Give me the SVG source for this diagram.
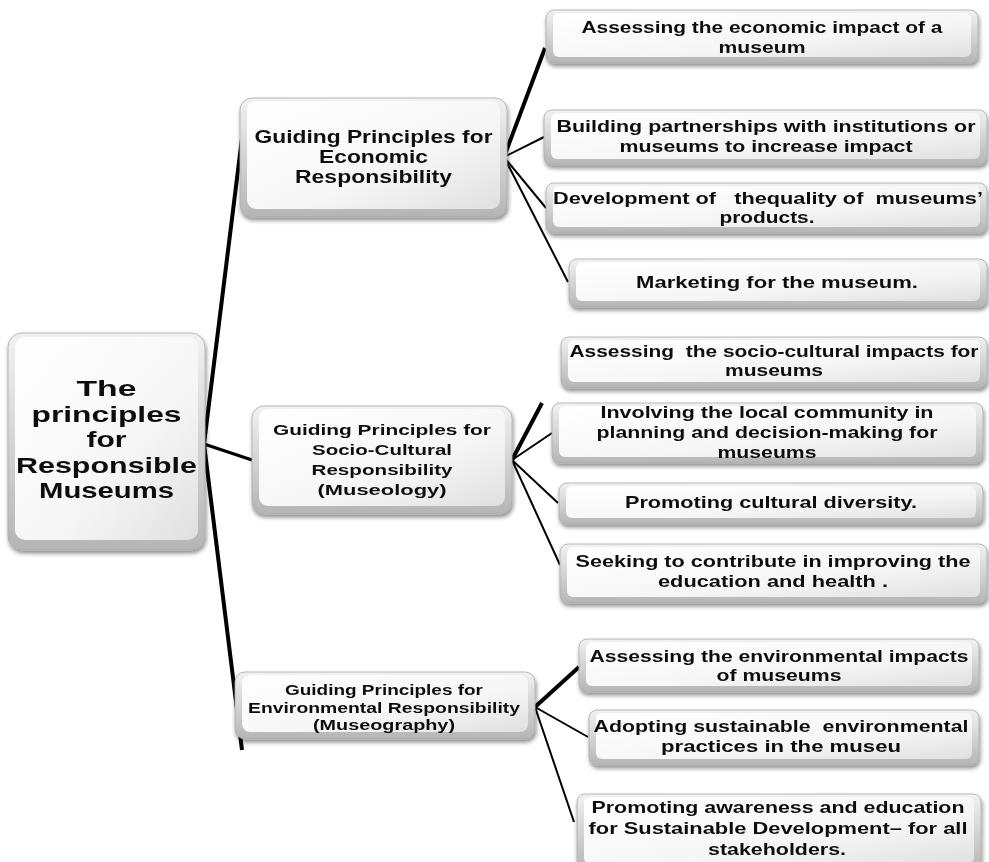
<svg xmlns="http://www.w3.org/2000/svg" width="989" height="862" viewBox="0 0 989 862">
<defs>
<linearGradient id="gOuter" x1="0" y1="0" x2="0" y2="1">
<stop offset="0" stop-color="#f2f2f2"/>
<stop offset="1" stop-color="#b5b5b5"/>
</linearGradient>
<linearGradient id="gInner" x1="0" y1="0" x2="1" y2="1">
<stop offset="0" stop-color="#ffffff"/>
<stop offset="0.6" stop-color="#f6f6f6"/>
<stop offset="1" stop-color="#e0e0e0"/>
</linearGradient>
<filter id="shadow" x="-10%" y="-20%" width="125%" height="150%">
<feGaussianBlur in="SourceAlpha" stdDeviation="2"/>
<feOffset dx="1" dy="3" result="b"/>
<feComponentTransfer><feFuncA type="linear" slope="0.45"/></feComponentTransfer>
<feMerge><feMergeNode/><feMergeNode in="SourceGraphic"/></feMerge>
</filter>
</defs>
<style>
.outer{fill:url(#gOuter);stroke:#a9a9a9;stroke-width:0.8}
.inner{fill:url(#gInner)}
text{font-family:"Liberation Sans","Open Sans",sans-serif;font-weight:bold;fill:#111;text-anchor:middle;white-space:pre}
.root{font-size:22px}
.mid1{font-size:17.5px}
.mid2{font-size:15.5px}
.mid3{font-size:15px}
.leaf{font-size:16.5px}
.thick{stroke:#000;stroke-width:4;fill:none;stroke-linejoin:miter}
.thin{stroke:#000;stroke-width:2;fill:none}
</style>
<rect width="989" height="862" fill="#ffffff"/>

<g id="connectors">
<polyline class="thick" points="242,138 204,444 242,750"/>
<line class="thick" x1="204" y1="444" x2="252" y2="460" style="stroke-width:3"/>
<line class="thick" x1="504" y1="157" x2="545" y2="48"/>
<line class="thin" x1="504" y1="157" x2="544" y2="137"/>
<line class="thin" x1="504" y1="157" x2="546" y2="208"/>
<line class="thin" x1="504" y1="157" x2="568" y2="282"/>
<line class="thick" x1="512" y1="460" x2="542" y2="403"/>
<line class="thin" x1="512" y1="460" x2="552" y2="433"/>
<line class="thin" x1="512" y1="460" x2="558" y2="503"/>
<line class="thin" x1="512" y1="460" x2="560" y2="565"/>
<line class="thick" x1="535" y1="707" x2="579" y2="667"/>
<line class="thin" x1="535" y1="707" x2="588" y2="737"/>
<line class="thin" x1="535" y1="707" x2="574" y2="822"/>
</g>

<g id="root" filter="url(#shadow)">
<rect class="outer" x="8" y="333" width="197" height="217" rx="14"/>
<rect class="inner" x="15" y="337" width="183" height="203" rx="10"/>
<text class="root" x="106.5" y="396" textLength="60" lengthAdjust="spacingAndGlyphs">The</text>
<text class="root" x="106.5" y="421.5" textLength="150" lengthAdjust="spacingAndGlyphs">principles</text>
<text class="root" x="106.5" y="447" textLength="40" lengthAdjust="spacingAndGlyphs">for</text>
<text class="root" x="106.5" y="472.5" textLength="181" lengthAdjust="spacingAndGlyphs">Responsible</text>
<text class="root" x="106.5" y="498" textLength="135" lengthAdjust="spacingAndGlyphs">Museums</text>
</g>

<g id="economic" filter="url(#shadow)">
<rect class="outer" x="240" y="98" width="267" height="119" rx="12"/>
<rect class="inner" x="247" y="101" width="253" height="108" rx="9"/>
<text class="mid1" x="373.5" y="143" textLength="238" lengthAdjust="spacingAndGlyphs">Guiding Principles for</text>
<text class="mid1" x="373.5" y="163" textLength="109" lengthAdjust="spacingAndGlyphs">Economic</text>
<text class="mid1" x="373.5" y="183" textLength="157" lengthAdjust="spacingAndGlyphs">Responsibility</text>
</g>

<g id="sociocultural" filter="url(#shadow)">
<rect class="outer" x="252" y="406" width="260" height="108" rx="12"/>
<rect class="inner" x="259" y="409" width="246" height="97" rx="9"/>
<text class="mid2" x="382" y="435" textLength="218" lengthAdjust="spacingAndGlyphs">Guiding Principles for</text>
<text class="mid2" x="382" y="455" textLength="140" lengthAdjust="spacingAndGlyphs">Socio-Cultural</text>
<text class="mid2" x="382" y="475" textLength="141" lengthAdjust="spacingAndGlyphs">Responsibility</text>
<text class="mid2" x="382" y="495" textLength="129" lengthAdjust="spacingAndGlyphs">(Museology)</text>
</g>

<g id="environmental" filter="url(#shadow)">
<rect class="outer" x="235" y="672" width="300" height="67" rx="10"/>
<rect class="inner" x="242" y="675" width="286" height="57" rx="8"/>
<text class="mid3" x="384" y="695" textLength="198" lengthAdjust="spacingAndGlyphs">Guiding Principles for</text>
<text class="mid3" x="384" y="712.5" textLength="272" lengthAdjust="spacingAndGlyphs">Environmental Responsibility</text>
<text class="mid3" x="384" y="730" textLength="142" lengthAdjust="spacingAndGlyphs">(Museography)</text>
</g>

<g id="econ-1" filter="url(#shadow)">
<rect class="outer" x="546" y="10" width="432" height="53" rx="8"/>
<rect class="inner" x="553" y="13" width="418" height="44" rx="6"/>
<text class="leaf" x="762" y="33" textLength="361" lengthAdjust="spacingAndGlyphs">Assessing the economic impact of a</text>
<text class="leaf" x="762" y="53" textLength="87" lengthAdjust="spacingAndGlyphs">museum</text>
</g>

<g id="econ-2" filter="url(#shadow)">
<rect class="outer" x="544" y="110" width="443" height="55" rx="8"/>
<rect class="inner" x="551" y="113" width="429" height="46" rx="6"/>
<text class="leaf" x="766" y="132" textLength="419" lengthAdjust="spacingAndGlyphs">Building partnerships with institutions or</text>
<text class="leaf" x="766" y="152" textLength="293" lengthAdjust="spacingAndGlyphs">museums to increase impact</text>
</g>

<g id="econ-3" filter="url(#shadow)">
<rect class="outer" x="546" y="183" width="441" height="50" rx="8"/>
<rect class="inner" x="553" y="186" width="427" height="41" rx="6"/>
<text class="leaf" x="768" y="204" textLength="430" lengthAdjust="spacingAndGlyphs">Development of   thequality of  museums’</text>
<text class="leaf" x="767" y="223" textLength="95" lengthAdjust="spacingAndGlyphs">products.</text>
</g>

<g id="econ-4" filter="url(#shadow)">
<rect class="outer" x="569" y="259" width="418" height="48" rx="8"/>
<rect class="inner" x="576" y="262" width="404" height="39" rx="6"/>
<text class="leaf" x="777" y="288" textLength="282" lengthAdjust="spacingAndGlyphs">Marketing for the museum.</text>
</g>

<g id="socio-1" filter="url(#shadow)">
<rect class="outer" x="561" y="337" width="426" height="51" rx="8"/>
<rect class="inner" x="568" y="340" width="412" height="42" rx="6"/>
<text class="leaf" x="774" y="357" textLength="409" lengthAdjust="spacingAndGlyphs">Assessing  the socio-cultural impacts for</text>
<text class="leaf" x="774" y="376" textLength="98" lengthAdjust="spacingAndGlyphs">museums</text>
</g>

<g id="socio-2" filter="url(#shadow)">
<rect class="outer" x="552" y="403" width="431" height="60" rx="8"/>
<rect class="inner" x="559" y="406" width="417" height="51" rx="6"/>
<text class="leaf" x="767" y="418" textLength="333" lengthAdjust="spacingAndGlyphs">Involving the local community in</text>
<text class="leaf" x="767" y="438" textLength="341" lengthAdjust="spacingAndGlyphs">planning and decision-making for</text>
<text class="leaf" x="767" y="458" textLength="99" lengthAdjust="spacingAndGlyphs">museums</text>
</g>

<g id="socio-3" filter="url(#shadow)">
<rect class="outer" x="559" y="483" width="424" height="41" rx="8"/>
<rect class="inner" x="566" y="486" width="410" height="32" rx="6"/>
<text class="leaf" x="771" y="508" textLength="292" lengthAdjust="spacingAndGlyphs">Promoting cultural diversity.</text>
</g>

<g id="socio-4" filter="url(#shadow)">
<rect class="outer" x="560" y="544" width="427" height="59" rx="8"/>
<rect class="inner" x="567" y="547" width="413" height="50" rx="6"/>
<text class="leaf" x="773" y="567" textLength="395" lengthAdjust="spacingAndGlyphs">Seeking to contribute in improving the</text>
<text class="leaf" x="773" y="587" textLength="230" lengthAdjust="spacingAndGlyphs">education and health .</text>
</g>

<g id="env-1" filter="url(#shadow)">
<rect class="outer" x="579" y="639" width="400" height="53" rx="8"/>
<rect class="inner" x="586" y="642" width="386" height="44" rx="6"/>
<text class="leaf" x="779" y="662" textLength="379" lengthAdjust="spacingAndGlyphs">Assessing the environmental impacts</text>
<text class="leaf" x="779" y="681" textLength="125" lengthAdjust="spacingAndGlyphs">of museums</text>
</g>

<g id="env-2" filter="url(#shadow)">
<rect class="outer" x="589" y="710" width="390" height="55" rx="8"/>
<rect class="inner" x="596" y="713" width="376" height="46" rx="6"/>
<text class="leaf" x="781" y="732" textLength="375" lengthAdjust="spacingAndGlyphs">Adopting sustainable  environmental</text>
<text class="leaf" x="781" y="752" textLength="240" lengthAdjust="spacingAndGlyphs">practices in the museu</text>
</g>

<g id="env-3" filter="url(#shadow)">
<rect class="outer" x="577" y="794" width="404" height="76" rx="8"/>
<rect class="inner" x="584" y="797" width="390" height="67" rx="6"/>
<text class="leaf" x="778" y="813" textLength="373" lengthAdjust="spacingAndGlyphs">Promoting awareness and education</text>
<text class="leaf" x="778" y="834" textLength="379" lengthAdjust="spacingAndGlyphs">for Sustainable Development– for all</text>
<text class="leaf" x="777" y="855" textLength="138" lengthAdjust="spacingAndGlyphs">stakeholders.</text>
</g>
</svg>
